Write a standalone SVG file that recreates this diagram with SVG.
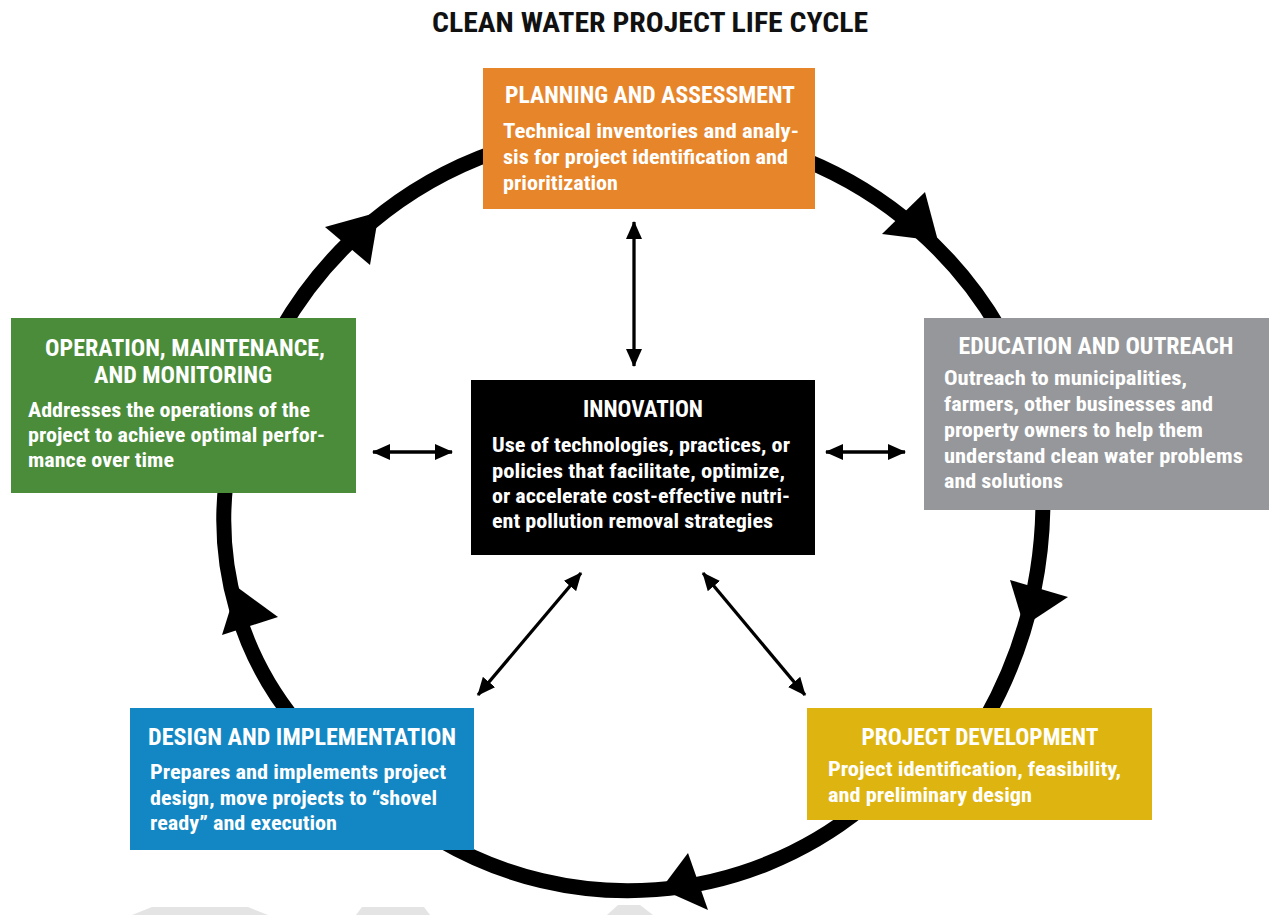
<svg xmlns="http://www.w3.org/2000/svg" width="1269" height="915" viewBox="0 0 1269 915">
<style>
.t{font-family:"Roboto Condensed","Liberation Sans Narrow",Roboto,"Liberation Sans",sans-serif;font-weight:bold;fill:#ffffff;}
.h{font-size:23.5px;text-anchor:middle;}
.b{font-size:20.5px;}
.loop{fill:none;stroke:#000;stroke-width:15;}
.head{fill:#000;}
.thin{fill:none;stroke:#000;stroke-width:3.3;marker-start:url(#ah);marker-end:url(#ah);}
.ghost{fill:#e4e4e4;}
</style>
<defs>
<marker id="ah" viewBox="0 0 18 16" refX="17" refY="8" markerWidth="18" markerHeight="16" markerUnits="userSpaceOnUse" orient="auto-start-reverse">
<path d="M0,0 L18,8 L0,16 z" fill="#000"/>
</marker>
</defs>
<rect width="1269" height="915" fill="#ffffff"/>
<text x="650" y="32" class="t" style="fill:#111;font-size:28px;text-anchor:middle" textLength="436" lengthAdjust="spacingAndGlyphs">CLEAN WATER PROJECT LIFE CYCLE</text>

<g id="connectors">
<path class="loop" d="M805,160 A400,400 0 0 1 1000,330"/>
<path class="loop" d="M1043,500 A450,450 0 0 1 985,720"/>
<path class="loop" d="M862,808 A373,373 0 0 1 440,840"/>
<path class="loop" d="M296,722 A320,320 0 0 1 226,482"/>
<path class="loop" d="M280,332 A400,400 0 0 1 495,152"/>
<polygon class="head" points="925,192 882,234 938,241"/>
<polygon class="head" points="1010,580 1068,597 1024,626"/>
<polygon class="head" points="688,853 708,910 661,889"/>
<polygon class="head" points="222,635 278,617 237,587"/>
<polygon class="head" points="325,227 370,265 379,212"/>
</g>

<g id="planning">
<rect x="483" y="68" width="332" height="141" fill="#E6852A"/>
<text class="t h" x="650" y="103" textLength="290" lengthAdjust="spacingAndGlyphs">PLANNING AND ASSESSMENT</text>
<text class="t b" x="503" y="138" textLength="296" lengthAdjust="spacingAndGlyphs">Technical inventories and analy-</text>
<text class="t b" x="503" y="164" textLength="285" lengthAdjust="spacingAndGlyphs">sis for project identification and</text>
<text class="t b" x="503" y="190" textLength="115" lengthAdjust="spacingAndGlyphs">prioritization</text>
</g>

<g id="operation">
<rect x="11" y="318" width="345" height="175" fill="#4A8C3A"/>
<text class="t h" x="185" y="356" textLength="280" lengthAdjust="spacingAndGlyphs">OPERATION, MAINTENANCE,</text>
<text class="t h" x="183" y="383" textLength="178" lengthAdjust="spacingAndGlyphs">AND MONITORING</text>
<text class="t b" x="28" y="417" textLength="282" lengthAdjust="spacingAndGlyphs">Addresses the operations of the</text>
<text class="t b" x="28" y="442" textLength="297" lengthAdjust="spacingAndGlyphs">project to achieve optimal perfor-</text>
<text class="t b" x="28" y="467" textLength="146" lengthAdjust="spacingAndGlyphs">mance over time</text>
</g>

<g id="education">
<rect x="924" y="318" width="345" height="192" fill="#96979A"/>
<text class="t h" x="1096" y="354" textLength="275" lengthAdjust="spacingAndGlyphs">EDUCATION AND OUTREACH</text>
<text class="t b" x="944" y="385" textLength="243" lengthAdjust="spacingAndGlyphs">Outreach to municipalities,</text>
<text class="t b" x="944" y="411" textLength="269" lengthAdjust="spacingAndGlyphs">farmers, other businesses and</text>
<text class="t b" x="944" y="437" textLength="259" lengthAdjust="spacingAndGlyphs">property owners to help them</text>
<text class="t b" x="944" y="463" textLength="299" lengthAdjust="spacingAndGlyphs">understand clean water problems</text>
<text class="t b" x="944" y="488" textLength="119" lengthAdjust="spacingAndGlyphs">and solutions</text>
</g>

<g id="innovation">
<rect x="471" y="380" width="344" height="175" fill="#000000"/>
<text class="t h" x="643" y="417" textLength="120" lengthAdjust="spacingAndGlyphs">INNOVATION</text>
<text class="t b" x="492" y="452" textLength="298" lengthAdjust="spacingAndGlyphs">Use of technologies, practices, or</text>
<text class="t b" x="492" y="478" textLength="293" lengthAdjust="spacingAndGlyphs">policies that facilitate, optimize,</text>
<text class="t b" x="492" y="503" textLength="298" lengthAdjust="spacingAndGlyphs">or accelerate cost-effective nutri-</text>
<text class="t b" x="492" y="528" textLength="281" lengthAdjust="spacingAndGlyphs">ent pollution removal strategies</text>
</g>

<g id="design">
<rect x="130" y="708" width="344" height="142" fill="#1387C3"/>
<text class="t h" x="302" y="745" textLength="308" lengthAdjust="spacingAndGlyphs">DESIGN AND IMPLEMENTATION</text>
<text class="t b" x="150" y="779" textLength="296" lengthAdjust="spacingAndGlyphs">Prepares and implements project</text>
<text class="t b" x="150" y="805" textLength="287" lengthAdjust="spacingAndGlyphs">design, move projects to “shovel</text>
<text class="t b" x="150" y="830" textLength="187" lengthAdjust="spacingAndGlyphs">ready” and execution</text>
</g>

<g id="development">
<rect x="807" y="708" width="345" height="112" fill="#DEB510"/>
<text class="t h" x="980" y="745" textLength="237" lengthAdjust="spacingAndGlyphs">PROJECT DEVELOPMENT</text>
<text class="t b" x="828" y="776" textLength="293" lengthAdjust="spacingAndGlyphs">Project identification, feasibility,</text>
<text class="t b" x="828" y="802" textLength="204" lengthAdjust="spacingAndGlyphs">and preliminary design</text>
</g>

<g id="links">
<line class="thin" x1="634" y1="222" x2="634" y2="366"/>
<line class="thin" x1="373" y1="452" x2="452" y2="452"/>
<line class="thin" x1="826" y1="452" x2="905" y2="452"/>
<line class="thin" x1="581" y1="573" x2="478" y2="695"/>
<line class="thin" x1="703" y1="573" x2="805" y2="695"/>
</g>

<g id="ghosts">
<polygon class="ghost" points="152,907 248,907 268,915 132,915"/>
<polygon class="ghost" points="362,907 424,907 430,915 356,915"/>
<polygon class="ghost" points="618,905 640,905 653,915 607,915"/>
</g>
</svg>
